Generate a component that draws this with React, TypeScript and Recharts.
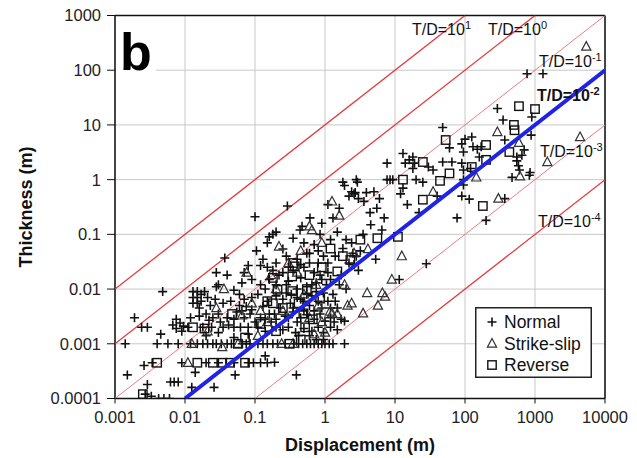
import { ScatterChart, Scatter, XAxis, YAxis, CartesianGrid, Legend, ReferenceLine } from "recharts";

const FONT = "'Liberation Sans', Arial, Helvetica, sans-serif";

const xTicks = [0.001, 0.01, 0.1, 1, 10, 100, 1000, 10000];
const yTicks = [0.0001, 0.001, 0.01, 0.1, 1, 10, 100, 1000];

// thickness / displacement guide lines
const redRatios = [10, 1, 0.1, 0.001, 0.0001];
const lightRatios = [0.1, 0.001];
const blueRatio = 0.01;

// [displacement, thickness] in m
const normalSmall: [number, number][] = [
  [0.0014, 0.001], [0.0015, 0.00027], [0.0019, 0.003], [0.0024, 0.002], [0.0029, 0.002],
  [0.0026, 0.0004], [0.0029, 0.00018], [0.0034, 0.00045], [0.0027, 0.00012], [0.0033, 0.00011],
  [0.0042, 0.0001], [0.005, 0.0001], [0.006, 0.0001], [0.0048, 0.009], [0.0045, 0.0015],
  [0.004, 0.001], [0.0057, 0.001], [0.008, 0.001], [0.0062, 0.0002], [0.007, 0.0002],
  [0.008, 0.0002], [0.0067, 0.0022], [0.0075, 0.0019], [0.0085, 0.0024], [0.0095, 0.0021],
  [0.0075, 0.0028], [0.009, 0.0017], [0.009, 0.00045],
];

const normalMid: [number, number][] = [
  [0.013, 0.009], [0.013, 0.007], [0.013, 0.0055], [0.015, 0.009], [0.015, 0.007],
  [0.015, 0.0055], [0.017, 0.008], [0.017, 0.006], [0.016, 0.0045], [0.019, 0.009],
  [0.012, 0.003], [0.016, 0.0032], [0.011, 0.002], [0.02, 0.0035], [0.022, 0.0027], [0.025, 0.003],
  [0.028, 0.02], [0.04, 0.018], [0.028, 0.011], [0.03, 0.012], [0.037, 0.037], [0.06, 0.008],
  [0.08, 0.027], [0.05, 0.0095], [0.045, 0.006], [0.035, 0.0055], [0.06, 0.005], [0.07, 0.0065],
  [0.09, 0.007], [0.012, 0.001], [0.015, 0.001], [0.018, 0.001], [0.021, 0.001], [0.025, 0.001],
  [0.028, 0.001], [0.033, 0.001], [0.04, 0.001], [0.046, 0.001], [0.066, 0.001], [0.075, 0.001],
  [0.085, 0.001], [0.02, 0.0014], [0.03, 0.0016], [0.05, 0.0013], [0.08, 0.0015],
  [0.018, 0.002], [0.024, 0.002], [0.035, 0.002], [0.05, 0.002], [0.062, 0.002], [0.08, 0.002],
  [0.03, 0.0035], [0.04, 0.003], [0.055, 0.0038], [0.07, 0.003], [0.085, 0.0035],
  [0.02, 0.00045], [0.03, 0.00045], [0.05, 0.00045], [0.08, 0.00045], [0.095, 0.00045],
  [0.0125, 0.00016], [0.026, 0.00016], [0.052, 0.00027], [0.014, 0.0003],
  [0.07, 0.02], [0.09, 0.015], [0.065, 0.013],
  [0.09, 0.0042], [0.075, 0.0048], [0.065, 0.004], [0.05, 0.0028], [0.042, 0.0022],
  [0.032, 0.0025], [0.027, 0.0065], [0.023, 0.005], [0.021, 0.007],
];

const normalSub1: [number, number][] = [
  [0.1, 0.21], [0.2, 0.11], [0.29, 0.33], [0.44, 0.12], [0.61, 0.2], [0.9, 0.16], [0.47, 0.14],
  [0.15, 0.07], [0.18, 0.1], [0.35, 0.085], [0.25, 0.054], [0.105, 0.05], [0.16, 0.09],
  [0.13, 0.035], [0.5, 0.07], [0.7, 0.065], [0.85, 0.1],
  [0.12, 0.027], [0.15, 0.025], [0.2, 0.03], [0.28, 0.04], [0.4, 0.035], [0.5, 0.025],
  [0.6, 0.045], [0.8, 0.03], [0.95, 0.04], [0.25, 0.02], [0.35, 0.022], [0.7, 0.02],
  [0.12, 0.012], [0.16, 0.015], [0.2, 0.012], [0.3, 0.014], [0.45, 0.016], [0.55, 0.011],
  [0.75, 0.013], [0.9, 0.015], [0.14, 0.01], [0.4, 0.01],
  [0.11, 0.008], [0.15, 0.006], [0.2, 0.0075], [0.25, 0.0065], [0.32, 0.0055], [0.4, 0.007],
  [0.5, 0.006], [0.65, 0.0075], [0.8, 0.006], [0.95, 0.0085], [0.13, 0.0048], [0.28, 0.0085],
  [0.12, 0.003], [0.16, 0.0035], [0.2, 0.0028], [0.27, 0.0032], [0.35, 0.0038], [0.45, 0.003],
  [0.55, 0.0034], [0.7, 0.0028], [0.85, 0.0035], [0.17, 0.0025], [0.4, 0.0025],
  [0.11, 0.002], [0.14, 0.0017], [0.2, 0.002], [0.25, 0.0018], [0.3, 0.002], [0.38, 0.0016],
  [0.5, 0.0019], [0.65, 0.0017], [0.8, 0.002], [0.95, 0.0016],
  [0.11, 0.001], [0.13, 0.001], [0.15, 0.001], [0.18, 0.001], [0.21, 0.001], [0.27, 0.001],
  [0.36, 0.001], [0.42, 0.001], [0.48, 0.001], [0.55, 0.001], [0.62, 0.001], [0.7, 0.001],
  [0.8, 0.001], [0.9, 0.001], [0.12, 0.00045], [0.15, 0.00045], [0.19, 0.00046],
  [0.39, 0.00027], [0.14, 0.0006],
  [0.5, 0.004], [0.6, 0.005], [0.7, 0.004], [0.3, 0.003], [0.35, 0.0045], [0.45, 0.0065],
  [0.55, 0.008], [0.65, 0.012], [0.75, 0.009], [0.85, 0.018], [0.6, 0.03], [0.45, 0.028],
  [0.3, 0.025], [0.22, 0.018], [0.18, 0.022], [0.28, 0.012], [0.33, 0.008], [0.23, 0.0045],
  [0.19, 0.0035], [0.14, 0.0028], [0.1, 0.0025], [0.9, 0.0045], [0.95, 0.0012], [0.75, 0.0012],
  [0.6, 0.0014], [0.42, 0.0014], [0.8, 0.05], [0.55, 0.045],
];

const normalLarge: [number, number][] = [
  [1.0, 0.001], [1.15, 0.001], [1.3, 0.001], [1.9, 0.001], [1.9, 0.0026], [1, 0.0026],
  [1.2, 0.002], [1.5, 0.0045], [1.1, 0.006], [1.3, 0.008], [1.6, 0.012], [1.2, 0.015],
  [1.1, 0.03], [1.4, 0.04], [2.2, 0.03], [2.6, 0.028], [3, 0.022], [2.8, 0.04], [1.8, 0.055],
  [2.4, 0.07], [3.5, 0.1], [1.5, 0.11], [2.2, 0.5], [2.6, 0.55], [3, 0.45], [2.4, 0.6],
  [3.6, 0.4], [1.9, 0.78], [2.8, 1], [2.7, 0.58], [3.9, 0.58], [1.8, 0.9], [2.9, 0.9],
  [4.4, 0.25], [5.5, 0.3], [6, 0.45], [7, 0.2], [5, 0.6], [7.7, 1], [8.5, 1], [9.3, 1],
  [7.7, 2], [6.5, 0.12], [4.5, 0.15], [1.3, 0.2], [1.6, 0.3], [1.1, 0.35], [5.3, 0.035],
  [1.7, 0.018], [2, 0.01], [1.2, 0.0045],
  [1.05, 0.012], [1.1, 0.02], [1.35, 0.0025], [1.5, 0.0018], [1.7, 0.0028], [1.4, 0.006],
  [1.2, 0.003], [2.5, 0.045], [3.2, 0.05], [2, 0.08], [1.2, 0.08],
  [11.5, 0.015], [28, 0.029], [12, 0.55], [13, 0.7], [14, 2], [18, 2.6], [19, 2], [18, 1.6],
  [20, 1], [13, 3], [16, 2.3], [48, 9], [90, 4.5], [100, 5.5], [130, 4], [95, 3.2], [150, 3.6],
  [170, 4], [160, 2.6], [48, 2.1], [65, 2.1], [90, 2], [95, 1.5], [95, 1], [95, 0.8],
  [35, 1.5], [30, 1.7], [115, 0.44], [90, 0.5], [77, 0.2], [200, 0.18], [370, 0.45],
  [290, 20], [350, 12.3], [900, 14], [370, 5.3], [880, 6.5], [550, 2.6], [550, 2.2],
  [580, 1.8], [600, 1.5], [850, 1.35], [470, 1.1], [830, 1.2], [770, 86], [1300, 86],
  [700, 3.5], [650, 2.8], [125, 6], [60, 3.8], [120, 1.6], [25, 0.9], [40, 0.5], [15, 0.35],
  [22, 0.25],
];

const strikeSlip: [number, number][] = [
  [0.0125, 0.001], [0.011, 0.00045], [0.034, 0.00087], [0.021, 0.0017], [0.036, 0.01],
  [0.076, 0.02], [0.057, 0.001], [0.6, 0.14], [1.26, 0.4], [0.65, 0.12], [4.1, 0.054],
  [12.5, 0.04], [9, 0.015], [4, 0.0085], [6.6, 0.0085], [2.4, 0.0055], [3.5, 0.0036],
  [5.7, 0.005], [2.1, 0.005], [7.2, 0.0073], [1.18, 0.0039], [1.26, 0.0036], [1.9, 0.012],
  [2.6, 0.045], [290, 7.4], [590, 4.7], [610, 1.15], [1500, 2.1], [5400, 270], [4400, 6],
  [145, 1.1], [35, 0.6], [300, 0.45], [0.3, 0.03], [0.4, 0.02], [0.2, 0.01], [0.5, 0.008],
  [0.8, 0.005], [0.25, 0.004], [0.12, 0.004], [0.15, 0.0025], [0.6, 0.003], [0.9, 0.0025],
  [0.35, 0.001], [0.24, 0.001], [0.7, 0.0015], [1, 0.0016], [1.5, 0.0035], [0.45, 0.05],
  [0.22, 0.06], [0.9, 0.07], [0.17, 0.018], [0.11, 0.0014], [0.065, 0.0033], [0.028, 0.0045],
  [0.75, 0.012], [0.09, 0.0055], [1.6, 0.22],
];

const reverse: [number, number][] = [
  [0.0025, 0.00012], [0.004, 0.00045], [0.013, 0.002], [0.019, 0.0019], [0.047, 0.0035],
  [0.072, 0.0013], [0.057, 0.001], [0.015, 0.00045], [0.025, 0.00045], [0.034, 0.00045],
  [0.044, 0.00045], [0.072, 0.00045], [0.35, 0.03], [0.21, 0.0097], [0.34, 0.0092],
  [0.18, 0.0055], [0.49, 0.0036], [0.67, 0.0028], [0.2, 0.0017], [0.31, 0.001], [25, 0.43],
  [3.2, 0.08], [5.6, 0.085], [11, 0.09], [1.5, 0.021], [1.2, 0.055], [2.3, 0.034],
  [0.37, 0.026], [0.34, 0.017], [0.18, 0.016], [1.8, 0.04], [0.85, 0.0067], [0.52, 0.002],
  [590, 22], [1000, 19.5], [500, 10], [510, 8], [53, 5.3], [200, 4.3], [200, 2.3], [430, 3.2],
  [25, 2.1], [125, 1.7], [60, 1.3], [44, 0.95], [13, 1], [180, 0.33], [0.6, 0.018],
  [0.9, 0.025], [0.12, 0.0023], [0.15, 0.006], [0.45, 0.0012], [0.55, 0.01], [0.25, 0.0045],
  [0.42, 0.0055],
];

const X_MIN = xTicks[0];
const X_MAX = xTicks[xTicks.length - 1];
const Y_MIN = yTicks[0];
const Y_MAX = yTicks[yTicks.length - 1];

const toPoints = (arr: [number, number][]) => arr.map(([x, y]) => ({ x, y }));

// clip T = r * D to the plot box
function ratioLine(r: number) {
  const x0 = Math.max(X_MIN, Y_MIN / r);
  const x1 = Math.min(X_MAX, Y_MAX / r);
  return [{ x: x0, y: r * x0 }, { x: x1, y: r * x1 }];
}

const normalPts = toPoints([...normalSmall, ...normalMid, ...normalSub1, ...normalLarge]);
const strikePts = toPoints(strikeSlip);
const reversePts = toPoints(reverse);

const Plus = (p: any) => {
  const { cx, cy } = p;
  if (cx == null || cy == null) return <g />;
  return (
    <path
      d={`M${cx - 4.5},${cy}H${cx + 4.5}M${cx},${cy - 4.5}V${cy + 4.5}`}
      stroke="#111"
      strokeWidth={1.6}
      fill="none"
    />
  );
};

const Tri = (p: any) => {
  const { cx, cy } = p;
  if (cx == null || cy == null) return <g />;
  return (
    <path
      d={`M${cx},${cy - 5}L${cx + 4.6},${cy + 3.6}L${cx - 4.6},${cy + 3.6}Z`}
      stroke="#333"
      strokeWidth={1.2}
      fill="none"
    />
  );
};

const Sq = (p: any) => {
  const { cx, cy } = p;
  if (cx == null || cy == null) return <g />;
  return <rect x={cx - 4.2} y={cy - 4.2} width={8.4} height={8.4} stroke="#111" strokeWidth={1.4} fill="none" />;
};

const NoDot = () => <g />;

function LegendBox() {
  const rows = [
    { label: "Normal", Icon: Plus },
    { label: "Strike-slip", Icon: Tri },
    { label: "Reverse", Icon: Sq },
  ];
  return (
    <svg width={117} height={71} style={{ display: "block" }}>
      <rect x={0.75} y={0.75} width={115.5} height={69.5} fill="#fff" stroke="#222" strokeWidth={1.5} />
      {rows.map((r, i) => (
        <g key={r.label}>
          <r.Icon cx={17} cy={15 + i * 21.5} />
          <text x={29} y={21 + i * 21.5} fontFamily={FONT} fontSize={17.5} fill="#111">
            {r.label}
          </text>
        </g>
      ))}
    </svg>
  );
}

function TD({ x, y, exp, bold }: { x: number; y: number; exp: string; bold?: boolean }) {
  return (
    <text x={x} y={y} fontFamily={FONT} fontSize={16} fontWeight={bold ? "bold" : "normal"} fill="#111">
      T/D=10
      <tspan dy={-6} fontSize={11}>
        {exp}
      </tspan>
    </text>
  );
}

export default function App() {
  return (
    <div style={{ position: "absolute", left: 0, top: 0, width: 637, height: 458, background: "#fff" }}>
      <ScatterChart width={637} height={458} margin={{ top: 15.5, right: 32, bottom: 9.5, left: 10 }}>
        <CartesianGrid stroke="#c8c8c8" strokeWidth={1} />
        <XAxis
          dataKey="x"
          type="number"
          scale="log"
          domain={[X_MIN, X_MAX]}
          ticks={xTicks}
          allowDataOverflow
          height={50}
          tickSize={5}
          tickMargin={8}
          axisLine={{ stroke: "#111", strokeWidth: 1.5 }}
          tickLine={{ stroke: "#111" }}
          tick={{ fill: "#222", fontSize: 16.5, fontFamily: FONT }}
          tickFormatter={(v: number) => String(v)}
        />
        <YAxis
          dataKey="y"
          type="number"
          scale="log"
          domain={[Y_MIN, Y_MAX]}
          ticks={yTicks}
          allowDataOverflow
          width={105}
          tickSize={8}
          tickMargin={6}
          axisLine={{ stroke: "#111", strokeWidth: 1.5 }}
          tickLine={{ stroke: "#111" }}
          tick={{ fill: "#222", fontSize: 16.5, fontFamily: FONT }}
          tickFormatter={(v: number) => String(v)}
        />
        <ReferenceLine y={Y_MAX} stroke="#111" strokeWidth={1.5} />
        <ReferenceLine x={X_MAX} stroke="#111" strokeWidth={1.5} />
        {redRatios.map((r) => (
          <Scatter
            key={`r${r}`}
            data={ratioLine(r)}
            line={{
              stroke: lightRatios.includes(r) ? "#ee7b7f" : "#e23a40",
              strokeWidth: lightRatios.includes(r) ? 1 : 1.3,
            }}
            shape={NoDot}
            legendType="none"
            isAnimationActive={false}
          />
        ))}
        <Scatter name="Normal" data={normalPts} shape={Plus} fill="#111" isAnimationActive={false} />
        <Scatter name="Strike-slip" data={strikePts} shape={Tri} fill="#333" isAnimationActive={false} />
        <Scatter name="Reverse" data={reversePts} shape={Sq} fill="#111" isAnimationActive={false} />
        <Scatter
          data={ratioLine(blueRatio)}
          line={{ stroke: "#1f23e6", strokeWidth: 4 }}
          shape={NoDot}
          legendType="none"
          isAnimationActive={false}
        />
        <Legend
          layout="vertical"
          align="center"
          verticalAlign="middle"
          wrapperStyle={{ left: 475, top: 307, width: 117, height: 71 }}
          content={() => <LegendBox />}
        />
      </ScatterChart>
      <svg
        width={637}
        height={458}
        style={{ position: "absolute", left: 0, top: 0, pointerEvents: "none" }}
      >
        <rect x={116} y={23} width={40} height={50} fill="#fff" />
        <text x={120} y={70} fontFamily={FONT} fontSize={52} fontWeight="bold" fill="#000">
          b
        </text>
        <TD x={412} y={35} exp="1" />
        <TD x={488} y={35} exp="0" />
        <TD x={539} y={67} exp="-1" />
        <TD x={537} y={101} exp="-2" bold />
        <TD x={540} y={157} exp="-3" />
        <TD x={538} y={227} exp="-4" />
        <text x={360} y={451} textAnchor="middle" fontFamily={FONT} fontSize={18} fontWeight="bold" fill="#111">
          Displacement (m)
        </text>
        <text
          x={0}
          y={0}
          transform="translate(32,207) rotate(-90)"
          textAnchor="middle"
          fontFamily={FONT}
          fontSize={18}
          fontWeight="bold"
          fill="#111"
        >
          Thickness (m)
        </text>
      </svg>
    </div>
  );
}
